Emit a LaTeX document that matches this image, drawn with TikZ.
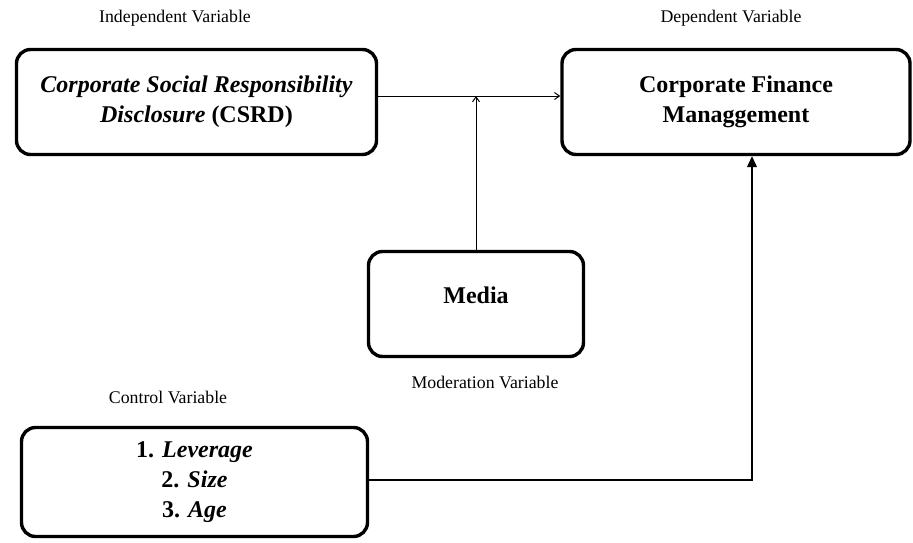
\documentclass[tikz,border=0pt]{standalone}
\usepackage{fontspec}
\setmainfont{Liberation Serif}
\usetikzlibrary{arrows.meta}
\begin{document}
\begin{tikzpicture}[x=1pt, y=-1pt,
    varbox/.style={draw, line width=3.4pt, rounded corners=14pt, align=center,
        font=\fontsize{24}{30}\selectfont\bfseries, minimum height=105pt},
    caption/.style={font=\fontsize{17.8}{21}\selectfont},
    link/.style={line width=1pt}]
    \useasboundingbox (0,0) rectangle (913,542);

    % Boxes
    \node[varbox, minimum width=360pt] (csrd) at (196.5,102)
        {\textit{Corporate Social Responsibility}\\\textit{Disclosure} (CSRD)};
    \node[varbox, minimum width=348pt] (cfm) at (736,102)
        {Corporate Finance\\Managgement};
    \node[varbox, minimum width=215pt, text depth=18pt] (media) at (476,304) {Media};
    \node[varbox, minimum width=346pt, minimum height=109pt] (ctrl) at (194.5,482)
        {1. \textit{Leverage}\\2. \textit{Size}\\3. \textit{Age}};

    % Captions
    \node[caption] (indep) at (175,18) {Independent Variable};
    \node[caption] (dep) at (731,18) {Dependent Variable};
    \node[caption] (moder) at (485,382) {Moderation Variable};
    \node[caption] (contr) at (168,397) {Control Variable};

    % Connectors
    \coordinate (meet) at (476,96);
    \coordinate (turn) at (752,480);
    \draw[link, -{Straight Barb[length=5pt,width=7pt]}] (csrd.east |- meet) -- (cfm.west |- meet);
    \draw[link, -{Straight Barb[length=5pt,width=7pt]}] (media.north) -- (meet);
    \draw[link, line width=1.2pt, -{Triangle[length=11pt,width=10pt]}]
        (ctrl.east |- turn) -- (turn) -- (cfm.south -| turn);
\end{tikzpicture}
\end{document}
